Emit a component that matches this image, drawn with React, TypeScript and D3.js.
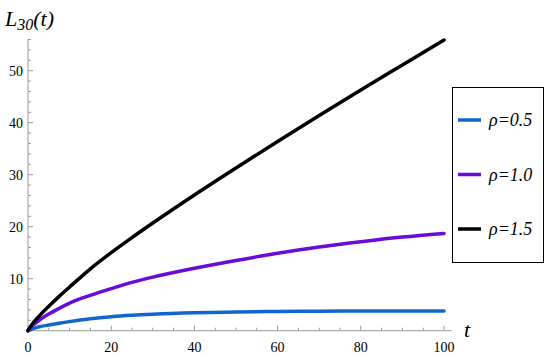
import React from "react";
import * as d3 from "d3";

const tValues = [0, 1, 2, 3, 5, 7.5, 10, 15, 20, 25, 30, 40, 50, 60, 70, 80, 90, 100];
const rho05 = [0, 0.35, 0.6, 0.8, 1.1, 1.45, 1.75, 2.3, 2.7, 2.98, 3.18, 3.45, 3.6, 3.7, 3.75, 3.78, 3.8, 3.81];
const rho10 = [0, 0.9, 1.6, 2.2, 3.2, 4.3, 5.3, 6.8, 8.1, 9.3, 10.3, 12.0, 13.5, 14.9, 16.1, 17.1, 18.0, 18.7];
const rho15 = [0, 1.25, 2.2, 3.1, 4.7, 6.6, 8.4, 11.9, 15.0, 17.9, 20.7, 26.1, 31.3, 36.4, 41.4, 46.3, 51.1, 55.9];
const seriesNames = ["ρ=0.5", "ρ=1.0", "ρ=1.5"];
const seriesColors = ["#1167d0", "#6a0bd6", "#000000"];
const xTicks = [0, 20, 40, 60, 80, 100];
const yTicks = [10, 20, 30, 40, 50];

export default function App() {
  const W = 550, H = 357;
  const x = d3.scaleLinear().domain([0, 100]).range([28, 444]);
  const y = d3.scaleLinear().domain([0, 50]).range([330.7, 70.7]);
  const series = [rho05, rho10, rho15];
  const line = d3
    .line<number>()
    .x((_, i) => x(tValues[i]))
    .y((d) => y(d))
    .curve(d3.curveMonotoneX);
  const xMinor = d3.range(0, 101.5, 5);
  const yMinor = d3.range(0, 56.1, 2);
  const axisColor = "#9a9a9a";
  const serif = { fontFamily: "Times New Roman" };
  const serifIt = { fontFamily: "Times New Roman", fontStyle: "italic" as const };
  return (
    <svg width={W} height={H} style={{ position: "absolute", left: 0, top: 0 }}>
      <rect width={W} height={H} fill="#fff" />
      <line x1={x(0)} x2={x(0)} y1={y(0)} y2={y(56.1)} stroke={axisColor} strokeWidth={1} />
      <line x1={x(0)} x2={x(101.8)} y1={y(0)} y2={y(0)} stroke={axisColor} strokeWidth={1} />
      {yMinor.map((v) => (
        <line key={"ym" + v} x1={x(0)} x2={x(0) + (v % 10 === 0 ? 5 : 3)} y1={y(v)} y2={y(v)} stroke={axisColor} />
      ))}
      {xMinor.map((v) => (
        <line key={"xm" + v} x1={x(v)} x2={x(v)} y1={y(0)} y2={y(0) - (v % 20 === 0 ? 5 : 3)} stroke={axisColor} />
      ))}
      {yTicks.map((v) => (
        <text key={"yt" + v} x={x(0) - 5} y={y(v) + 5} textAnchor="end" style={serif} fontSize={14}>
          {v}
        </text>
      ))}
      {xTicks.map((v) => (
        <text key={"xt" + v} x={x(v)} y={352} textAnchor="middle" style={serif} fontSize={14}>
          {v}
        </text>
      ))}
      <text x={464} y={337} style={serifIt} fontSize={22}>t</text>
      <text x={5} y={26} style={serifIt} fontSize={22}>
        L<tspan fontSize={16} dy={4}>30</tspan><tspan dy={-4}>(t)</tspan>
      </text>
      {series.map((s, i) => (
        <path key={"s" + i} d={line(s) || ""} fill="none" stroke={seriesColors[i]} strokeWidth={3.5} strokeLinecap="round" />
      ))}
      <rect x={452.5} y={87.5} width={91} height={175} fill="#fff" stroke="#000" strokeWidth={1} />
      {seriesNames.map((n, i) => {
        const ly = 120 + i * 54.5;
        return (
          <g key={"lg" + i}>
            <line x1={458} x2={481} y1={ly} y2={ly} stroke={seriesColors[i]} strokeWidth={3.5} />
            <text x={489} y={ly + 6} style={serifIt} fontSize={18}>
              {n}
            </text>
          </g>
        );
      })}
    </svg>
  );
}
